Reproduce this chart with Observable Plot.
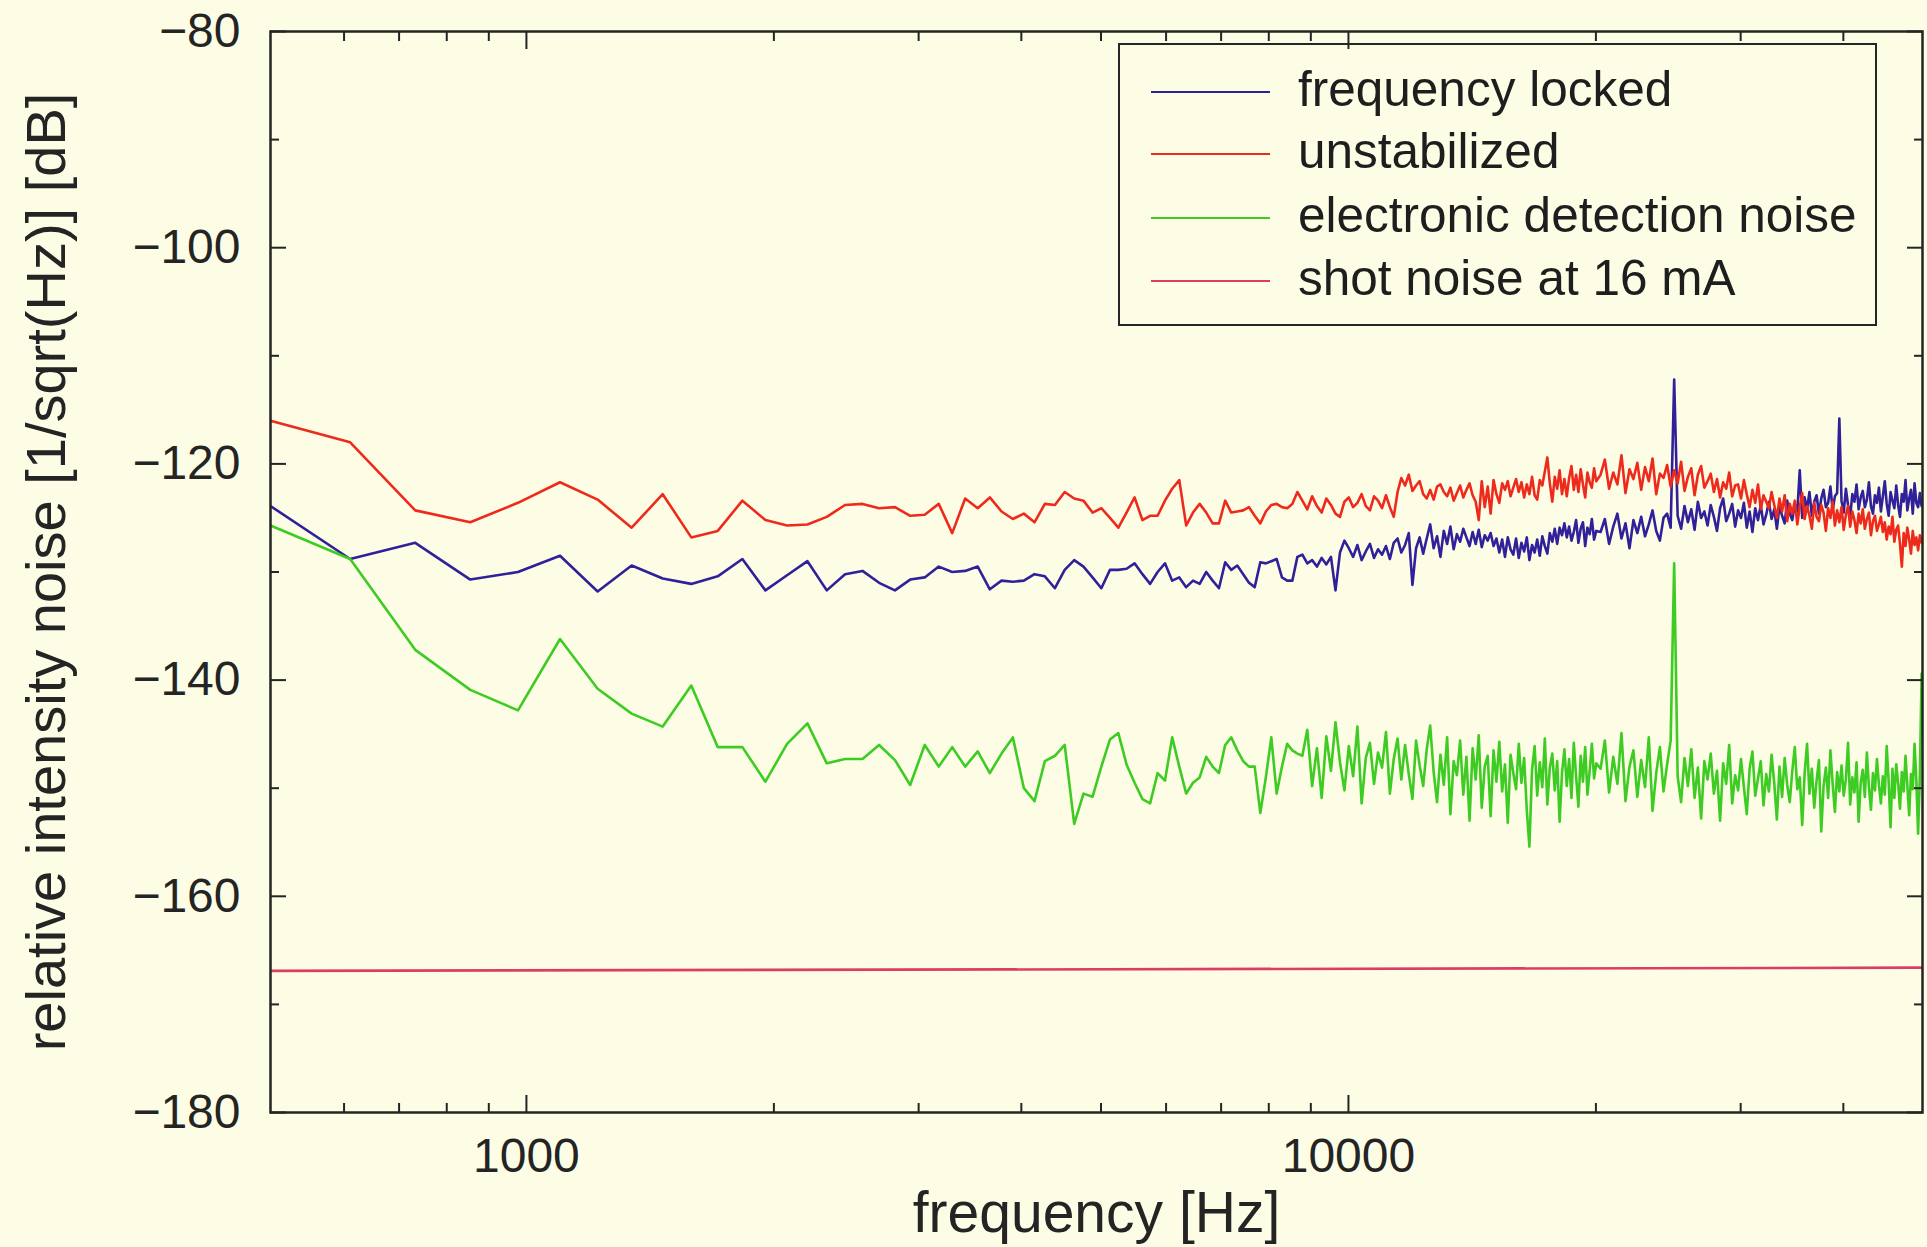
<!DOCTYPE html>
<html>
<head>
<meta charset="utf-8">
<script src="https://cdn.jsdelivr.net/npm/d3@7"></script>
<script src="https://cdn.jsdelivr.net/npm/@observablehq/plot@0.6"></script>
<style>
  html, body { margin: 0; padding: 0; background: #fdfde6; }
  #wrap { position: relative; width: 1927px; height: 1247px; background: #fdfde6;
          font-family: "Liberation Sans", Arial, Helvetica, sans-serif; color: #1e1e1e; overflow: hidden; }
  #wrap svg { position: absolute; left: 0; top: 0; }
  #legend { position: absolute; left: 1118px; top: 43px; width: 755px; height: 279px;
            border: 2.5px solid #262626; background: #fdfde6; }
  .row { position: absolute; left: 0; width: 100%; height: 0; }
  .sw { position: absolute; left: 31px; width: 119px; top: -1px; height: 0; border-top: 2.5px solid; }
  .lt { position: absolute; left: 178px; top: 0; font-size: 49.5px; line-height: 1;
        transform: translateY(-56%); white-space: nowrap; }
</style>
</head>
<body>
<div id="wrap"><div id="legend"></div></div>
<script>
// ---- sampling grid: FFT bins of 122.0703125 Hz ----
const binHz = 122.0703125;
const lowFirstBin = 4, midFirstBin = 72, highFirstBin = 166, highBinStep = 2;

// ---- series names & colours ----
const seriesNames = ["frequency locked", "unstabilized", "electronic detection noise", "shot noise at 16 mA"];
const seriesColors = ["#30209a", "#ee2a1c", "#3dcb24", "#dc3d62"];

// ---- frequency locked (dB), bins 4..71 ----
const lockedLow = [-123.9, -128.8, -127.3, -130.7, -130.0, -128.5, -131.8, -129.4, -130.6, -131.1, -130.4, -128.8,
 -131.7, -130.3, -129.0, -131.7, -130.2, -129.9, -131.0, -131.7, -130.7, -130.5, -129.5, -130.0, -129.9, -129.5, -131.6, -130.8,
 -130.9, -130.8, -130.2, -130.4, -131.5, -129.8, -128.9, -129.5, -130.5, -131.5,
 -129.8, -129.8, -129.7, -129.2, -130.2, -131.1, -130.0, -129.2, -130.8, -130.5,
 -131.4, -130.8, -131.1, -130.0, -130.8, -131.5, -129.1, -129.8, -129.4, -130.2,
 -131.0, -131.4, -129.1, -129.2, -129.0, -128.8, -130.5, -130.8, -130.8, -128.6];
// bins 72..164
const lockedMid = [-128.4, -129.2, -128.9, -129.5, -128.7, -129.3, -128.6, -131.7, -128.2, -127.1,
 -127.8, -128.6, -127.5, -128.9, -128.1, -127.4, -128.7, -127.9, -128.4, -127.6,
 -128.8, -127.3, -126.9, -128.2, -127.5, -126.4, -131.2, -127.8, -126.8, -128.3,
 -126.9, -125.6, -127.8, -126.7, -128.6, -126.2, -127.4, -125.8, -127.9, -126.5,
 -127.2, -126.0, -126.8, -127.6, -126.3, -127.4, -126.1, -127.7, -126.6, -127.1,
 -126.4, -127.6, -126.9, -128.2, -127.0, -128.6, -126.8, -127.9, -128.4, -126.9,
 -128.7, -127.3, -128.1, -126.8, -128.9, -127.5, -128.2, -127.0, -128.5, -126.7,
 -127.6, -128.3, -126.4, -127.2, -126.0, -127.4, -125.9, -126.6, -125.5, -126.8,
 -125.8, -127.1, -126.3, -125.2, -127.3, -126.0, -125.4, -127.6, -125.9, -126.5,
 -125.1, -127.0, -126.2];
// bins 166..408 (every 2nd bin)
const lockedHigh = [-126.3, -125.1, -127.4, -125.8, -124.6, -126.9, -125.5, -127.8, -125.2, -126.4,
 -124.9, -126.7, -125.6, -124.3, -126.2, -127.1, -125.0, -124.6, -125.9, -112.2,
 -124.8, -126.0, -123.9, -125.4, -124.2, -126.1, -123.5, -125.0, -124.4, -125.7,
 -123.8, -124.9, -126.2, -124.1, -123.2, -125.3, -124.6, -123.7, -125.8, -124.3,
 -125.0, -123.6, -125.9, -124.4, -126.3, -124.1, -125.2, -123.8, -125.6, -124.7,
 -123.5, -125.1, -124.2, -126.0, -123.9, -124.8, -125.5, -123.4, -124.6, -125.2,
 -123.7, -124.4, -120.6, -125.0, -123.1, -124.2, -122.6, -124.8, -123.5, -122.9,
 -124.6, -123.2, -122.4, -124.0, -123.6, -122.1, -124.3, -123.0, -122.7, -115.8,
 -123.4, -124.5, -122.3, -123.8, -124.9, -122.8, -123.5, -121.9, -124.2, -123.1,
 -122.5, -124.0, -123.3, -121.7, -123.9, -124.6, -122.9, -123.6, -122.2, -124.4,
 -123.0, -121.6, -123.7, -124.8, -122.6, -123.4, -124.1, -122.0, -123.8, -124.9,
 -122.8, -123.5, -121.5, -124.3, -123.2, -122.4, -124.6, -121.8, -123.6, -124.0,
 -122.7, -123.9];

// ---- unstabilized (dB) ----
const unstabLow = [-116.0, -118.0, -124.3, -125.4, -123.6, -121.7, -123.3, -125.9, -122.8, -126.8, -126.2, -123.4,
 -125.2, -125.7, -125.6, -124.9, -123.8, -123.7, -124.1, -124.0, -124.8, -124.7, -123.7, -126.4, -123.2, -124.1, -123.1, -124.4,
 -125.1, -124.6, -125.4, -123.7, -123.8, -122.6, -123.2, -123.4, -124.5, -124.1,
 -125.0, -125.9, -124.5, -123.1, -125.2, -124.8, -124.8, -123.4, -122.3, -121.5,
 -125.7, -124.5, -123.7, -124.5, -125.5, -125.5, -123.4, -124.5, -124.4, -124.3,
 -124.0, -124.8, -125.5, -124.4, -123.8, -123.7, -124.0, -124.1, -123.7, -122.6];
const unstabMid = [-123.4, -124.2, -123.0, -123.9, -124.5, -123.2, -123.8, -124.6, -124.9, -123.5,
 -123.1, -124.0, -123.6, -122.8, -123.9, -124.3, -123.0, -123.4, -124.1, -122.9,
 -124.0, -124.9, -122.6, -121.3, -122.0, -121.0, -122.5, -122.0, -121.6, -122.8,
 -123.2, -122.4, -123.3, -122.1, -121.9, -122.6, -123.0, -122.2, -123.4, -122.7,
 -122.0, -123.1, -122.4, -121.8, -122.9, -123.5, -125.2, -121.6, -124.0, -122.1,
 -124.6, -121.5, -122.8, -123.6, -121.8, -122.4, -121.6, -123.0, -122.2, -121.4,
 -122.6, -121.7, -123.1, -121.9, -122.8, -121.2, -122.9, -123.3, -121.5, -122.0,
 -120.7, -119.4, -121.8, -123.5, -121.2, -122.3, -120.6, -122.8, -121.4, -123.0,
 -121.3, -120.2, -122.4, -121.0, -122.6, -120.5, -121.9, -123.1, -120.8, -121.7,
 -122.2, -120.4, -121.6];
const unstabHigh = [-121.0, -119.6, -122.3, -120.8, -121.9, -119.2, -122.7, -120.5, -121.4, -119.9,
 -122.4, -120.3, -121.6, -119.5, -122.8, -120.9, -121.3, -120.1, -122.1, -120.6,
 -121.8, -119.8, -122.5, -121.2, -120.4, -122.9, -121.0, -120.2, -122.2, -121.6,
 -120.9, -122.6, -121.4, -123.1, -121.7, -122.3, -120.8, -123.0, -122.0, -121.9,
 -123.2, -121.5, -122.8, -124.0, -122.4, -123.6, -121.9, -124.2, -122.9, -123.5,
 -124.1, -122.6, -123.8, -125.0, -123.2, -124.4, -122.9, -125.3, -123.7, -124.6,
 -123.4, -125.6, -124.0, -122.7, -125.1, -123.9, -124.8, -126.0, -123.6, -124.9,
 -125.3, -123.8, -124.5, -126.2, -124.1, -125.0, -123.5, -125.7, -124.3, -125.4,
 -124.0, -126.1, -124.7, -123.9, -125.8, -124.4, -125.2, -126.4, -124.6, -125.5,
 -124.2, -126.0, -125.1, -124.5, -126.6, -125.3, -124.8, -126.2, -125.6, -124.9,
 -126.3, -125.4, -127.0, -125.8, -126.5, -124.9, -127.2, -126.1, -125.7, -127.4,
 -129.5, -126.4, -127.6, -125.9, -127.0, -128.3, -126.2, -127.5, -126.8, -128.0,
 -126.6, -127.3];

// ---- electronic detection noise (dB) ----
const electronicLow = [-125.7, -128.8, -137.2, -140.9, -142.8, -136.2, -140.8, -143.1, -144.3, -140.5, -146.2, -146.2,
 -149.4, -145.9, -144.0, -147.7, -147.3, -147.3, -146.0, -147.4, -149.7, -146.0, -148.0, -146.2, -148.0, -146.6, -148.6, -146.8,
 -145.3, -150.0, -151.2, -147.5, -147.0, -146.0, -153.3, -150.5, -150.8, -148.0,
 -145.5, -144.9, -147.8, -149.5, -151.0, -151.4, -148.6, -149.3, -145.3, -148.0,
 -150.5, -149.5, -149.0, -147.1, -148.0, -148.6, -146.0, -145.3, -146.5, -147.5,
 -148.0, -148.0, -152.3, -149.0, -145.3, -150.5, -148.0, -145.9, -146.5, -146.8];
const electronicMid = [-147.0, -144.6, -149.8, -146.3, -150.9, -145.2, -148.4, -143.9, -147.6, -150.2,
 -146.1, -148.9, -144.3, -151.4, -147.2, -145.8, -149.6, -146.7, -148.1, -144.8,
 -150.5, -147.3, -145.4, -149.2, -146.0, -148.7, -151.0, -145.6, -147.9, -149.8,
 -146.4, -144.2, -148.5, -151.3, -146.9, -149.7, -145.3, -152.4, -147.5, -148.8,
 -145.6, -150.6, -147.1, -153.0, -146.3, -149.2, -145.1, -151.8, -148.0, -147.0,
 -152.6, -146.5, -149.4, -145.7, -150.3, -147.8, -153.2, -146.9, -148.6, -150.1,
 -145.9, -149.5, -147.2, -152.0, -155.4, -148.3, -146.1, -150.7, -147.6, -149.9,
 -145.4, -151.5, -148.1, -146.8, -150.2, -147.5, -153.1, -148.6, -146.4, -149.8,
 -147.3, -150.9, -145.8, -148.9, -151.7, -147.0, -149.4, -146.2, -150.6, -148.4,
 -145.9, -149.1, -147.7];
const electronicHigh = [-148.2, -145.6, -150.4, -147.1, -149.6, -144.9, -151.2, -148.0, -146.5, -150.8,
 -147.4, -149.9, -145.3, -152.1, -148.6, -146.2, -150.3, -147.8, -145.6, -129.2,
 -148.9, -151.3, -147.2, -149.8, -146.4, -150.9, -148.1, -152.8, -147.5, -149.2,
 -146.8, -150.5, -148.4, -153.0, -147.7, -149.6, -146.0, -151.4, -148.8, -150.2,
 -147.3, -149.9, -152.4, -148.2, -146.6, -150.7, -149.1, -147.5, -151.6, -148.7,
 -150.3, -146.9, -149.5, -152.9, -148.0, -150.8, -147.2, -149.7, -151.3, -148.4,
 -146.2, -150.1, -149.0, -153.4, -148.6, -145.9, -150.5, -148.2, -151.8, -149.3,
 -147.4, -154.0, -149.8, -148.1, -150.9, -146.5, -149.6, -152.2, -148.5, -150.3,
 -147.9, -150.7, -149.2, -145.8, -151.5, -149.0, -150.4, -147.6, -153.1, -149.5,
 -148.3, -150.8, -146.7, -149.9, -152.0, -148.6, -150.2, -147.3, -149.7, -151.4,
 -148.9, -150.6, -146.1, -149.4, -153.6, -148.2, -150.9, -147.8, -149.5, -151.9,
 -148.5, -150.3, -147.0, -149.8, -152.5, -148.7, -150.1, -145.9, -149.3, -154.2,
 -148.8, -139.4];

// ---- shot noise at 16 mA (dB), at first and last bin ----
const shotBins = [4, 409];
const shotValues = [-166.9, -166.6];

// ---- axes ----
const xDomainBins = [4, 409];
const xMajorTicks = [1000, 10000];
const xMinorTicks = [600, 700, 800, 900, 2000, 3000, 4000, 5000, 6000, 7000, 8000, 9000, 20000, 30000, 40000];
const yMajorTicks = [-80, -100, -120, -140, -160, -180];
const yMinorTicks = [-90, -110, -130, -150, -170];
const xLabel = "frequency [Hz]";
const yLabel = "relative intensity noise [1/sqrt(Hz)] [dB]";

// ---- build tidy rows ----
function segment(name, values, firstBin, step) {
  return values.map((v, i) => ({series: name, f: (firstBin + i * step) * binHz, v}));
}
function series(name, low, mid, high) {
  return [...segment(name, low, lowFirstBin, 1), ...segment(name, mid, midFirstBin, 1), ...segment(name, high, highFirstBin, highBinStep)];
}
const lockedRows = series(seriesNames[0], lockedLow, lockedMid, lockedHigh);
const unstabRows = series(seriesNames[1], unstabLow, unstabMid, unstabHigh);
const electronicRows = series(seriesNames[2], electronicLow, electronicMid, electronicHigh);
const shotRows = shotBins.map((b, i) => ({series: seriesNames[3], f: b * binHz, v: shotValues[i]}));

const minus = d => d < 0 ? "\u2212" + Math.abs(d) : String(d);
const none = () => "";
const ink = "#242424";

const chart = Plot.plot({
  width: 1927, height: 1247,
  marginLeft: 270, marginRight: 5, marginTop: 31, marginBottom: 135,
  style: {background: "transparent", fontFamily: "'Liberation Sans', Arial, Helvetica, sans-serif", color: ink, overflow: "visible"},
  x: {type: "log", domain: xDomainBins.map(b => b * binHz)},
  y: {domain: [-180, -80]},
  marks: [
    Plot.line(lockedRows, {x: "f", y: "v", stroke: seriesColors[0], strokeWidth: 2.6, clip: true}),
    Plot.line(unstabRows, {x: "f", y: "v", stroke: seriesColors[1], strokeWidth: 2.6, clip: true}),
    Plot.line(electronicRows, {x: "f", y: "v", stroke: seriesColors[2], strokeWidth: 2.6, clip: true}),
    Plot.line(shotRows, {x: "f", y: "v", stroke: seriesColors[3], strokeWidth: 2.6, clip: true}),
    // ticks (inward) and labels
    Plot.axisX({anchor: "bottom", ticks: xMajorTicks, tickSize: -17, tickPadding: 42, tickFormat: d => String(d), fontSize: 48, label: null, stroke: ink, strokeWidth: 2}),
    Plot.axisX({anchor: "bottom", ticks: xMinorTicks, tickSize: -9, tickFormat: none, label: null, stroke: ink, strokeWidth: 2}),
    Plot.axisX({anchor: "top", ticks: xMajorTicks, tickSize: -17, tickFormat: none, label: null, stroke: ink, strokeWidth: 2}),
    Plot.axisX({anchor: "top", ticks: xMinorTicks, tickSize: -9, tickFormat: none, label: null, stroke: ink, strokeWidth: 2}),
    Plot.axisY({anchor: "left", ticks: yMajorTicks, tickSize: -16, tickPadding: 46, tickFormat: minus, fontSize: 48, label: null, stroke: ink, strokeWidth: 2}),
    Plot.axisY({anchor: "left", ticks: yMinorTicks, tickSize: -9, tickFormat: none, label: null, stroke: ink, strokeWidth: 2}),
    Plot.axisY({anchor: "right", ticks: yMajorTicks, tickSize: -16, tickFormat: none, label: null, stroke: ink, strokeWidth: 2}),
    Plot.axisY({anchor: "right", ticks: yMinorTicks, tickSize: -9, tickFormat: none, label: null, stroke: ink, strokeWidth: 2}),
    // axis titles
    Plot.axisX({anchor: "bottom", ticks: [], label: xLabel, labelAnchor: "center", labelOffset: 119, labelArrow: "none", fontSize: 57}),
    Plot.axisY({anchor: "left", ticks: [], label: yLabel, labelAnchor: "center", labelOffset: 245, labelArrow: "none", fontSize: 56}),
    Plot.frame({stroke: ink, strokeWidth: 2.5})
  ]
});
document.getElementById("wrap").appendChild(chart);

// ---- legend (HTML overlay) ----
const legend = document.getElementById("legend");
const rowTops = [47, 109, 173, 236];
seriesNames.forEach((name, i) => {
  const row = document.createElement("div");
  row.className = "row";
  row.style.top = rowTops[i] + "px";
  const sw = document.createElement("div");
  sw.className = "sw";
  sw.style.borderTopColor = seriesColors[i];
  const lt = document.createElement("div");
  lt.className = "lt";
  lt.textContent = name;
  row.appendChild(sw); row.appendChild(lt);
  legend.appendChild(row);
});
</script>
</body>
</html>
